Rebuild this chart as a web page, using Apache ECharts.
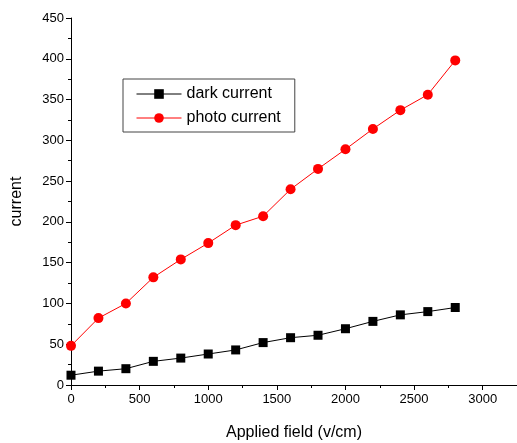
<!DOCTYPE html>
<html>
<head>
<meta charset="utf-8">
<script src="https://cdn.jsdelivr.net/npm/echarts@6/dist/echarts.min.js"></script>
<style>
  html, body { margin: 0; padding: 0; background: #fff; }
  #chart { width: 517px; height: 443px; }
</style>
</head>
<body>
<div id="chart"></div>
<script>
var fieldValues = [0, 200, 400, 600, 800, 1000, 1200, 1400, 1600, 1800, 2000, 2200, 2400, 2600, 2800];
var darkCurrent = [12, 17, 20, 29, 33, 38, 43, 52, 58, 61, 69, 78, 86, 90, 95];
var photoCurrent = [48, 82, 100, 132, 154, 174, 196, 207, 240, 265, 289, 314, 337, 356, 398];

function pairs(xs, ys) {
    return xs.map(function (x, i) { return [x, ys[i]]; });
}

var font = 'Liberation Sans, Arial, sans-serif';
var dom = document.getElementById('chart');
var myChart = echarts.init(dom);
var option = {
    animation: false,
    grid: { left: 71, top: 18, right: 0, bottom: 58, outerBoundsMode: 'none', containLabel: false },
    legend: {
        left: 123, top: 79,
        orient: 'vertical',
        itemWidth: 45, itemHeight: 12,
        itemGap: 8,
        padding: [7, 14, 6, 13],
        borderColor: '#444', borderWidth: 1,
        lineStyle: { width: 1 },
        textStyle: { fontFamily: font, fontSize: 16, color: '#000' },
        data: ['dark current', 'photo current']
    },
    xAxis: {
        type: 'value', min: 0, max: 3250, interval: 500,
        name: 'Applied field (v/cm)', nameLocation: 'middle', nameGap: 40,
        nameTextStyle: { fontFamily: font, fontSize: 16, color: '#000' },
        axisLine: { onZero: false, lineStyle: { color: '#000', width: 1 } },
        axisTick: { length: 5, lineStyle: { color: '#000' } },
        minorTick: { show: true, splitNumber: 2, length: 3, lineStyle: { color: '#000' } },
        axisLabel: { fontFamily: font, fontSize: 13, color: '#000', margin: 8,
            showMaxLabel: false, formatter: function (v) { return String(v); } },
        splitLine: { show: false }
    },
    yAxis: {
        type: 'value', min: 0, max: 450, interval: 50,
        name: 'current', nameLocation: 'middle', nameGap: 46, nameRotate: 90,
        nameTextStyle: { fontFamily: font, fontSize: 16, color: '#000' },
        axisLine: { show: true, onZero: false, lineStyle: { color: '#000', width: 1 } },
        axisTick: { show: true, length: 5, lineStyle: { color: '#000' } },
        minorTick: { show: true, splitNumber: 2, length: 3, lineStyle: { color: '#000' } },
        axisLabel: { fontFamily: font, fontSize: 13, color: '#000', margin: 7 },
        splitLine: { show: false }
    },
    series: [{
        name: 'dark current',
        type: 'line',
        data: pairs(fieldValues, darkCurrent),
        symbol: 'rect', symbolSize: 9,
        itemStyle: { color: '#000' },
        lineStyle: { color: '#000', width: 1 }
    }, {
        name: 'photo current',
        type: 'line',
        data: pairs(fieldValues, photoCurrent),
        symbol: 'circle', symbolSize: 10,
        itemStyle: { color: '#ff0000' },
        lineStyle: { color: '#ff0000', width: 1 }
    }]
};
myChart.setOption(option, true);
</script>
</body>
</html>
